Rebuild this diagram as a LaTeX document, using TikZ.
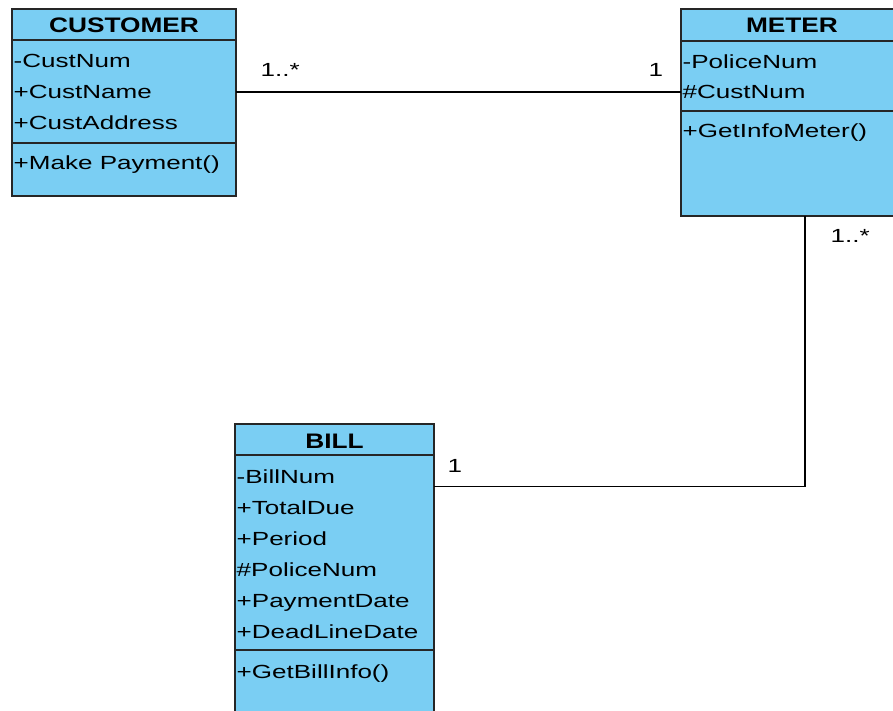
\documentclass[tikz,border=0pt]{standalone}
\usepackage{fontspec}
\setmainfont{Liberation Sans}[FakeStretch=1.37]
\newfontfamily\hdrfont{Liberation Sans}[FakeStretch=1.25]
\definecolor{umlblue}{RGB}{122,206,243}
\begin{document}
\begin{tikzpicture}[x=1pt,y=-1pt,
  umlbox/.style={draw=black!85, line width=1.8pt, fill=umlblue, anchor=north west, inner sep=0pt, outer sep=0pt},
  divider/.style={draw=black!85, line width=1.4pt},
  attr/.style={anchor=base west, inner sep=0pt, font=\fontsize{19}{19}\selectfont},
  hdr/.style={anchor=base, inner sep=0pt, font=\hdrfont\bfseries\fontsize{21}{21}\selectfont},
  mult/.style={anchor=base west, inner sep=0pt, font=\fontsize{19}{19}\selectfont},
  conn/.style={draw=black, line width=1.4pt}]
\useasboundingbox (0,0) rectangle (893,711);
\clip (0,0) rectangle (893,711);
\fill[white] (0,0) rectangle (893,711);

% CUSTOMER
\node[umlbox, minimum width=224pt, minimum height=187pt] (cust) at (12,9) {};
\draw[divider] (cust.west |- 0,40) -- (cust.east |- 0,40);
\draw[divider] (cust.west |- 0,143) -- (cust.east |- 0,143);
\node[hdr] (custh) at (124,33) {CUSTOMER};
\node[attr] (c1) at (13.5,68) {-CustNum};
\node[attr] (c2) at (13.5,99) {+CustName};
\node[attr] (c3) at (13.5,130) {+CustAddress};
\node[attr] (c4) at (13.5,170) {+Make Payment()};

% METER
\node[umlbox, minimum width=222pt, minimum height=207pt] (meter) at (681,9) {};
\draw[divider] (meter.west |- 0,41) -- (meter.east |- 0,41);
\draw[divider] (meter.west |- 0,111) -- (meter.east |- 0,111);
\node[hdr] (meterh) at (792,33) {METER};
\node[attr] (m1) at (682.5,69) {-PoliceNum};
\node[attr] (m2) at (682.5,99) {\#CustNum};
\node[attr] (m3) at (682.5,138) {+GetInfoMeter()};

% BILL
\node[umlbox, minimum width=199pt, minimum height=320pt] (bill) at (235,424) {};
\draw[divider] (bill.west |- 0,455) -- (bill.east |- 0,455);
\draw[divider] (bill.west |- 0,650) -- (bill.east |- 0,650);
\node[hdr] (billh) at (334.5,448) {BILL};
\node[attr] (b1) at (236.5,483) {-BillNum};
\node[attr] (b2) at (236.5,514) {+TotalDue};
\node[attr] (b3) at (236.5,545) {+Period};
\node[attr] (b4) at (236.5,576) {\#PoliceNum};
\node[attr] (b5) at (236.5,607) {+PaymentDate};
\node[attr] (b6) at (236.5,638) {+DeadLineDate};
\node[attr] (b7) at (236.5,678) {+GetBillInfo()};

% connectors
\coordinate (l1) at (0,92);
\draw[conn] (cust.east |- l1) -- (meter.west |- l1);
\coordinate (bend) at (805,486.5);
\draw[conn] (meter.south -| bend) -- (bend) -- (bill.east |- bend);

% multiplicities
\node[mult] (mu1) at (260.5,77) {1..*};
\node[mult] (mu2) at (648.5,77) {1};
\node[mult] (mu3) at (830.5,243) {1..*};
\node[mult] (mu4) at (447.5,472) {1};
\end{tikzpicture}
\end{document}
